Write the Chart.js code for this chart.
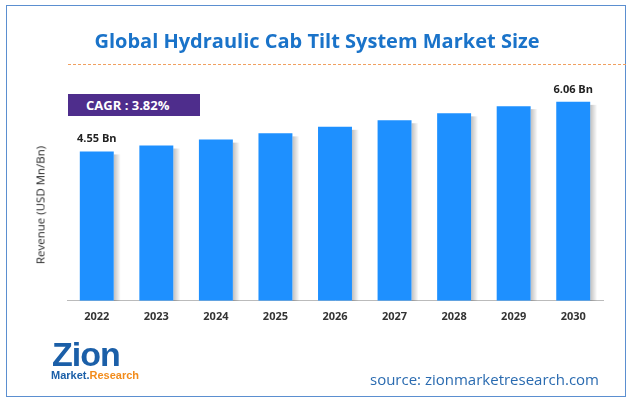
<!DOCTYPE html>
<html><head><meta charset="utf-8">
<script src="https://cdn.jsdelivr.net/npm/chart.js@4"></script>
<style>
html,body{margin:0;padding:0;background:#fff;width:634px;height:407px;overflow:hidden;font-family:"Open Sans",sans-serif}
#frame{position:absolute;left:6px;top:5px;width:620px;height:392px;border:1px solid #5b8fd0;box-sizing:border-box}
#c{position:absolute;left:0;top:0}
.t{position:absolute;white-space:nowrap}
</style></head><body>
<div id="frame"></div>
<canvas id="c" width="634" height="407"></canvas>
<div class="t" style="left:0;width:634px;text-align:center;top:27px;font-size:20px;font-weight:bold;color:#1a73c9">Global Hydraulic Cab Tilt System Market Size</div>
<div class="t" style="left:68px;top:64px;width:558px;border-top:1.5px dashed #f0a060"></div>
<div class="t" style="left:68px;top:94px;width:132px;height:22px;background:#4e2d8c;color:#fff;font-weight:bold;font-size:13px;line-height:22px;padding-left:18px;box-sizing:border-box">CAGR : 3.82%</div>
<div class="t" style="left:40px;top:205px;transform:translate(-50%,-50%) rotate(-90deg);font-size:11.5px;color:#222">Revenue (USD Mn/Bn)</div>
<div class="t" style="left:52px;top:337px;font-size:34px;font-weight:bold;color:#1b5fa8;font-family:'Liberation Sans',Arial;letter-spacing:-1px;line-height:34px">Zion</div>
<div class="t" style="left:51px;top:369px;font-size:11px;font-weight:bold;color:#1b5fa8;font-family:'Liberation Sans',Arial">Market.<span style="color:#f28c1c">Research</span></div>
<div class="t" style="left:370px;top:369px;font-size:15px;color:#2a6bb0">source: zionmarketresearch.com</div>
<script>
const years=["2022","2023","2024","2025","2026","2027","2028","2029","2030"];
const revenue=[4.55,4.73,4.91,5.10,5.30,5.50,5.71,5.93,6.06];
const valueLabels={0:"4.55 Bn",8:"6.06 Bn"};
const lbl={id:"lbl",afterDatasetsDraw(ch){const c=ch.ctx;const m=ch.getDatasetMeta(0);c.save();c.font="bold 11px 'Open Sans',sans-serif";c.fillStyle="#222";c.textAlign="center";
for(const k in valueLabels){const e=m.data[k];c.fillText(valueLabels[k],e.x,e.y-9);}c.restore();}};
const shadow={id:"sh",beforeDatasetsDraw(ch){const c=ch.ctx;const m=ch.getDatasetMeta(0);c.save();
m.data.forEach(e=>{const g=c.createLinearGradient(e.x+e.width/2,0,e.x+e.width/2+7,0);g.addColorStop(0,"rgba(0,0,0,0.25)");g.addColorStop(1,"rgba(0,0,0,0)");c.fillStyle=g;c.fillRect(e.x+e.width/2,e.y+3,7,e.base-e.y-3);});c.restore();}};
new Chart(document.getElementById("c"),{type:"bar",
data:{labels:years,datasets:[{data:revenue,backgroundColor:"#1e90ff",categoryPercentage:0.57,barPercentage:1}]},
options:{responsive:false,animation:false,devicePixelRatio:1,
layout:{padding:{left:67,right:31,top:71,bottom:75}},
plugins:{legend:{display:false},tooltip:{enabled:false}},
scales:{y:{display:false,min:0,max:7},
x:{grid:{display:false,drawTicks:false},border:{color:"#bbb"},ticks:{color:"#333",font:{weight:"bold",size:11,family:"'Open Sans',sans-serif"},padding:9}}}},
plugins:[shadow,lbl]});
</script></body></html>
